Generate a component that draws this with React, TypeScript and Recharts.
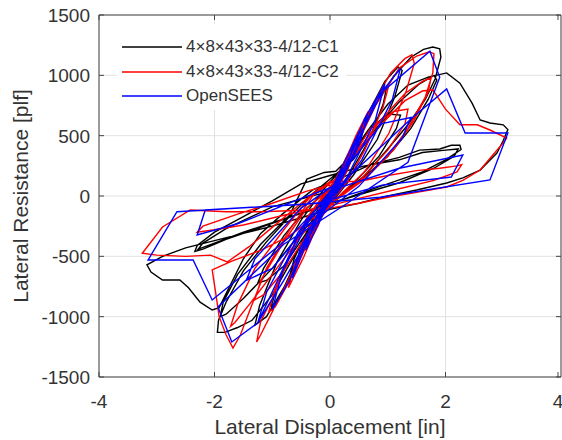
import { ScatterChart, Scatter, XAxis, YAxis, CartesianGrid, ReferenceArea, Legend } from "recharts";

type Pt = [number, number];

const xTicks = [-4, -2, 0, 2, 4];
const yTicks = [-1500, -1000, -500, 0, 500, 1000, 1500];

const seriesNames = ["4×8×43×33-4/12-C1", "4×8×43×33-4/12-C2", "OpenSEES"];
const seriesColors = ["#000000", "#ff0000", "#0000ff"];

// test C1 (black)
const c1: Pt[] = [
  [0, 0], [0.1, 100], [0.2, 190], [0.12, 100], [0, -20], [-0.1, -110], [-0.2, -200], [-0.12, -100], [0, 10],
  [0.15, 170], [0.3, 320], [0.42, 430], [0.32, 290], [0.1, 50], [-0.05, -40], [-0.2, -220], [-0.35, -360], [-0.45, -450], [-0.35, -310], [-0.1, -40], [0.05, 40],
  [0.25, 260], [0.45, 480], [0.64, 660], [0.55, 530], [0.3, 220], [0.05, 0], [-0.15, -120], [-0.4, -380], [-0.6, -600], [-0.72, -700], [-0.62, -520], [-0.3, -190], [-0.05, 30],
  [0.2, 210], [0.5, 520], [0.8, 810], [0.98, 900], [0.92, 760], [0.65, 440], [0.3, 150], [0, -40], [-0.3, -260], [-0.6, -580], [-0.9, -860], [-1.02, -920], [-0.92, -750], [-0.6, -390], [-0.3, -130], [0, 60],
  [0.3, 300], [0.62, 650], [0.95, 950], [1.18, 1070], [1.25, 1040], [1.12, 820], [0.82, 470], [0.4, 170], [0, -70], [-0.4, -350], [-0.8, -760], [-1.1, -1000], [-1.3, -1070], [-1.22, -910], [-0.92, -550], [-0.5, -200], [-0.1, 60],
  [0.3, 280], [0.7, 560], [1.0, 680], [1.22, 670], [1.15, 560], [0.85, 330], [0.4, 100], [0, -70], [-0.4, -300], [-0.8, -580], [-1.1, -700], [-1.25, -720], [-1.15, -600], [-0.8, -330], [-0.4, -100], [0, 60],
  [0.3, 330], [0.7, 690], [1.1, 990], [1.4, 1150], [1.62, 1215], [1.78, 1235], [1.9, 1220], [1.92, 1150], [1.82, 970], [1.65, 800], [1.35, 590], [1.0, 390], [0.6, 170], [0.2, 10], [-0.2, -150], [-0.6, -480], [-1.0, -820], [-1.35, -1030], [-1.6, -1090], [-1.82, -1130], [-1.95, -1130], [-1.93, -1030], [-1.8, -880], [-1.5, -620], [-1.1, -380], [-0.7, -170], [-0.3, 20],
  [0.4, 300], [0.8, 560], [1.2, 780], [1.55, 930], [1.8, 1000], [1.85, 960], [1.7, 800], [1.4, 560], [1.0, 330], [0.5, 120], [0, -60], [-0.5, -300], [-1.0, -600], [-1.5, -850], [-1.8, -980], [-1.9, -1000], [-1.85, -880], [-1.6, -650], [-1.2, -400], [-0.7, -160],
  [-0.4, 140], [-0.1, 195], [0.1, 205], [0.3, 300], [0.65, 540], [1.0, 760], [1.35, 920], [1.7, 985], [2.02, 1020], [2.25, 935], [2.46, 770], [2.6, 630], [2.77, 605], [3.0, 590], [3.08, 550], [3.0, 460], [2.89, 356], [2.6, 215], [2.3, 150], [2.02, 108], [1.5, 50], [1.0, 0], [0.5, -60], [0, -110], [-0.5, -180], [-1.0, -250], [-1.5, -310], [-2.0, -370], [-2.5, -430], [-2.9, -500], [-3.17, -570], [-3.1, -630], [-2.9, -696], [-2.6, -696], [-2.45, -760], [-2.25, -880], [-2.04, -945], [-1.92, -925], [-1.75, -760], [-1.5, -520], [-1.2, -310], [-0.8, -140], [-0.3, 50], [0.2, 150],
  [0.7, 260], [1.2, 320], [1.55, 380], [1.9, 390], [2.1, 420], [2.25, 420], [2.27, 385], [2.0, 300], [1.6, 200], [1.0, 100], [0.5, 20], [0, -70], [-0.6, -160], [-1.2, -260], [-1.8, -360], [-2.2, -440], [-2.34, -460], [-2.3, -410], [-2.0, -300], [-1.5, -170], [-1.0, -40], [-0.5, 100], [0, 170],
  [0.6, 250], [1.2, 300], [1.6, 360], [2.0, 380], [2.22, 390], [2.15, 330], [1.8, 230], [1.2, 110], [0.5, 10], [0, -60], [-0.8, -190], [-1.5, -300], [-2.0, -390], [-2.28, -440], [-2.2, -390], [-1.8, -270], [-1.0, -90], [0, 40],
];

// test C2 (red)
const c2: Pt[] = [
  [0, 0], [0.1, 110], [0.2, 200], [0.12, 90], [0, -20], [-0.1, -110], [-0.2, -200], [-0.12, -90], [0, 20],
  [0.15, 180], [0.3, 340], [0.45, 460], [0.35, 320], [0.1, 40], [-0.05, -50], [-0.2, -240], [-0.35, -380], [-0.48, -480], [-0.38, -330], [-0.1, -40], [0.05, 50],
  [0.25, 280], [0.45, 500], [0.66, 700], [0.56, 540], [0.3, 210], [0.05, -10], [-0.2, -220], [-0.45, -500], [-0.72, -760], [-0.62, -580], [-0.3, -220], [0, 20],
  [0.3, 300], [0.6, 620], [0.9, 880], [1.02, 920], [0.92, 740], [0.6, 380], [0.3, 120], [0, -60], [-0.3, -300], [-0.65, -660], [-0.95, -920], [-1.06, -960], [-0.96, -780], [-0.6, -380], [-0.3, -120], [0, 60],
  [0.3, 320], [0.7, 720], [1.05, 1020], [1.3, 1140], [1.42, 1170], [1.46, 1100], [1.32, 870], [1.02, 520], [0.6, 200], [0.2, 20], [-0.2, -200], [-0.6, -580], [-1.0, -960], [-1.2, -1150], [-1.27, -1210], [-1.23, -1110], [-1.2, -1040], [-1.0, -850], [-0.7, -500], [-0.4, -180], [0, 80],
  [0.3, 260], [0.7, 560], [1.1, 700], [1.35, 720], [1.3, 600], [1.0, 380], [0.5, 120], [0, -60], [-0.4, -320], [-0.8, -620], [-1.15, -820], [-1.3, -860], [-1.2, -700], [-0.8, -380], [-0.4, -100], [0, 60],
  [0.4, 360], [0.8, 760], [1.2, 1060], [1.5, 1160], [1.72, 1195], [1.8, 1180], [1.78, 1020], [1.65, 820], [1.35, 560], [1.0, 330], [0.6, 140], [0.2, 0], [-0.2, -150], [-0.7, -330], [-1.2, -450], [-1.7, -540], [-2.04, -613], [-1.98, -800], [-1.92, -1000], [-1.8, -1150], [-1.68, -1260], [-1.55, -1150], [-1.35, -900], [-1.1, -600], [-0.7, -280], [-0.3, 0], [0.1, 140],
  [0.4, 330], [0.9, 640], [1.3, 850], [1.6, 950], [1.75, 980], [1.7, 860], [1.45, 620], [1.1, 380], [0.6, 150], [0, -60], [-0.5, -330], [-1.0, -650], [-1.4, -900], [-1.65, -1050], [-1.72, -1080], [-1.6, -900], [-1.3, -600], [-0.8, -280], [-0.3, 20], [0.1, 140],
  [0.5, 380], [0.9, 600], [1.3, 790], [1.6, 870], [1.78, 880], [2.0, 720], [2.25, 590], [2.55, 590], [2.77, 547], [3.06, 480], [3.0, 440], [2.8, 330], [2.6, 215], [2.3, 130], [2.02, 75], [1.5, 30], [1.0, -10], [0.5, -60], [0, -100], [-0.6, -120], [-1.2, -130], [-1.8, -130], [-2.42, -116], [-2.9, -257], [-3.25, -475], [-3.0, -490], [-2.5, -500], [-2.07, -490], [-1.78, -547], [-1.4, -420], [-1.0, -260], [-0.5, -60], [0, 120],
  [0.5, 120], [1.0, 170], [1.5, 210], [1.9, 230], [2.2, 250], [2.28, 260], [2.2, 200], [1.8, 130], [1.2, 60], [0.5, -20], [0, -80], [-0.8, -160], [-1.5, -240], [-2.0, -280], [-2.3, -300], [-2.2, -250], [-1.6, -150], [-1.0, -60], [-0.4, 40], [0, 90],
];

// OpenSEES model (blue)
const openSees: Pt[] = [
  [0, 0], [0.12, 130], [0.22, 230], [0.12, 90], [-0.02, -20], [-0.12, -130], [-0.22, -230], [-0.12, -90], [0.02, 20],
  [0.2, 230], [0.42, 450], [0.32, 280], [0.02, -10], [-0.2, -230], [-0.42, -450], [-0.32, -280], [-0.02, 10],
  [0.3, 330], [0.65, 680], [0.52, 440], [0.1, 40], [-0.25, -200], [-0.65, -680], [-0.52, -440], [-0.1, -40], [0.25, 200],
  [0.6, 640], [0.95, 930], [0.78, 620], [0.3, 160], [-0.3, -220], [-0.7, -700], [-1.0, -940], [-0.82, -620], [-0.3, -150], [0.3, 230],
  [0.8, 800], [1.22, 1060], [1.08, 800], [0.55, 300], [-0.1, -120], [-0.8, -700], [-1.25, -1050], [-1.1, -800], [-0.55, -300], [0.1, 100],
  [0.3, 250], [0.9, 600], [1.4, 650], [1.25, 480], [0.5, 80], [-0.4, -250], [-1.0, -600], [-1.45, -700], [-1.3, -520], [-0.5, -100], [0.1, 100],
  [0.9, 860], [1.73, 1200], [1.9, 985], [1.35, 280], [0.3, -60], [-0.8, -400], [-1.94, -920], [-1.7, -1210], [-1.25, -1050], [-0.5, -280], [0.3, 150], [1.42, 646], [2.02, 887], [2.34, 522], [3.08, 522], [2.77, 133], [0.87, -10], [-0.5, -70], [-2.65, -130], [-3.15, -530], [-2.37, -530], [-2.04, -862], [-0.7, -340], [0.1, 60],
  [1.2, 230], [2.3, 340], [2.1, 157], [0.9, 90], [-0.2, -60], [-2.16, -116], [-2.3, -323], [-1.6, -230], [-0.5, -20], [0.3, 120],
];

const series = [c1, c2, openSees];

const PLOT = { left: 99, top: 15, right: 561, bottom: 377 };
const AXIS_COLOR = "#444";
const TEXT_COLOR = "#333";
const FONT = "'Liberation Sans', Arial, sans-serif";

const toPts = (a: Pt[]) => a.map(([x, y]) => ({ x, y }));

function XTick(props: any) {
  const { x, payload } = props;
  return (
    <g>
      <line x1={x} x2={x} y1={PLOT.bottom} y2={PLOT.bottom - 5} stroke={AXIS_COLOR} />
      <line x1={x} x2={x} y1={PLOT.top} y2={PLOT.top + 5} stroke={AXIS_COLOR} />
      <text x={x} y={PLOT.bottom + 18} dy="0.71em" textAnchor="middle" fill={TEXT_COLOR} fontSize={19} fontFamily={FONT}>
        {payload.value}
      </text>
    </g>
  );
}

function YTick(props: any) {
  const { y, payload } = props;
  return (
    <g>
      <line x1={PLOT.left} x2={PLOT.left + 5} y1={y} y2={y} stroke={AXIS_COLOR} />
      <line x1={PLOT.right} x2={PLOT.right - 5} y1={y} y2={y} stroke={AXIS_COLOR} />
      <text x={PLOT.left - 9} y={y} dy="0.36em" textAnchor="end" fill={TEXT_COLOR} fontSize={19} fontFamily={FONT}>
        {payload.value}
      </text>
    </g>
  );
}

function LegendBox() {
  return (
    <div style={{ background: "#fff", width: 229, height: 86, position: "relative", fontFamily: FONT, fontSize: 17, color: TEXT_COLOR }}>
      {seriesNames.map((n, i) => (
        <div key={n} style={{ position: "absolute", left: 5, top: 11 + i * 24.5, height: 24, display: "flex", alignItems: "center" }}>
          <svg width={60} height={4}>
            <line x1={0} x2={60} y1={2} y2={2} stroke={seriesColors[i]} strokeWidth={1.4} />
          </svg>
          <span style={{ marginLeft: 4, lineHeight: "24px", whiteSpace: "nowrap" }}>{n}</span>
        </div>
      ))}
    </div>
  );
}

export default function App() {
  return (
    <div>
      <style>{"body{margin:0}"}</style>
      <ScatterChart width={562} height={440} margin={{ top: 15, right: 1, bottom: 0, left: 0 }}>
        <CartesianGrid stroke="#e2e2e2" />
        <XAxis
          type="number"
          dataKey="x"
          domain={[-4, 4]}
          ticks={xTicks}
          allowDataOverflow
          height={63}
          axisLine={false}
          tickLine={false}
          tick={XTick}
          label={{ value: "Lateral Displacement [in]", position: "insideBottom", offset: 6, fill: TEXT_COLOR, fontSize: 21, fontFamily: FONT }}
        />
        <YAxis
          type="number"
          dataKey="y"
          domain={[-1500, 1500]}
          ticks={yTicks}
          allowDataOverflow
          width={99}
          axisLine={false}
          tickLine={false}
          tick={YTick}
          label={{ value: "Lateral Resistance [plf]", angle: -90, position: "insideLeft", offset: 21, fill: TEXT_COLOR, fontSize: 21, fontFamily: FONT, style: { textAnchor: "middle" } }}
        />
        <ReferenceArea x1={-4} x2={4} y1={-1500} y2={1500} fill="none" stroke={AXIS_COLOR} strokeWidth={1} />
        {series.map((s, i) => (
          <Scatter
            key={seriesNames[i]}
            name={seriesNames[i]}
            data={toPts(s)}
            line={{ stroke: seriesColors[i], strokeWidth: 1.4 }}
            lineType="joint"
            shape={() => null}
            fill={seriesColors[i]}
            isAnimationActive={false}
          />
        ))}
        <Legend
          layout="vertical"
          align="center"
          verticalAlign="middle"
          wrapperStyle={{ top: 24, left: 117, width: 229, height: 86 }}
          content={() => <LegendBox />}
        />
      </ScatterChart>
    </div>
  );
}
